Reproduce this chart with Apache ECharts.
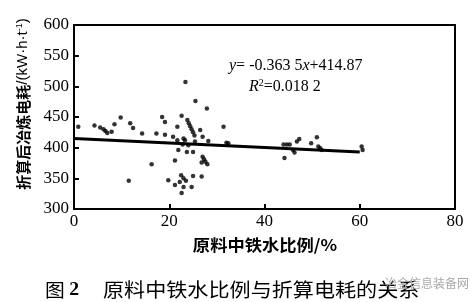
<!DOCTYPE html>
<html><head><meta charset="utf-8">
<script src="https://cdn.jsdelivr.net/npm/echarts@6/dist/echarts.min.js"></script>
<style>html,body{margin:0;padding:0;background:#fff}#c{width:474px;height:302px}</style>
</head><body><div id="c"></div>
<script>
// data
const ironRatio = [0.9,4.3,5.5,6.2,6.6,7.0,7.9,8.5,9.8,11.8,12.4,14.3,17.3,16.3,11.5,18.5,19.1,
  23.4,25.5,27.9,22.6,21.7,23.8,24.1,24.4,24.7,25.0,25.3,26.5,31.4,19.1,20.8,23.3,27.0,28.2,32.4,25.4,21.7,23.0,
  21.9,23.7,25.0,21.2,27.0,27.3,27.6,28.0,26.8,19.8,22.5,23.0,23.5,22.2,25.0,26.8,21.2,23.0,24.7,22.6,32.0,22.8,24.0,
  44.0,44.7,45.3,46.8,47.3,46.0,46.3,44.2,49.8,51.0,51.3,51.7,52.0,60.4,60.6];
const power = [434,436,433,430,427,424,426,438,449,440,432,423,423,373,346,450,442,
  507,476,464,452,434,445,440,435,430,425,420,429,434,421,418,412,418,411,407,410,412,415,
  396,393,393,379,385,381,377,373,376,347,355,350,346,344,354,353,339,336,336,326,408,405,404,
  405,405,405,410,414,396,392,383,407,417,402,399,396,402,396];
const fitX = [0, 60];
const fitY = [414.9, 393.1];
const xTicks = [0, 20, 40, 60, 80];
const yTicks = [300, 350, 400, 450, 500, 550, 600];

const chart = echarts.init(document.getElementById('c'));
const serif = '"Liberation Serif","Times New Roman",serif';
const cjk = '"Noto Sans CJK SC",sans-serif';
const sans = '"Liberation Sans",Arial,sans-serif';
chart.setOption({
  backgroundColor: '#fff',
  animation: false,
  grid: {left: 74, right: 19, top: 25, bottom: 93, show: true, borderColor: '#000', borderWidth: 2, backgroundColor: 'transparent'},
  xAxis: {type: 'value', min: xTicks[0], max: xTicks[xTicks.length-1], interval: 20,
    axisLine: {show: true, lineStyle: {color: '#000', width: 2}},
    axisTick: {show: true, inside: true, length: 5, lineStyle: {color: '#000', width: 2}},
    axisLabel: {color: '#000', fontFamily: serif, fontSize: 17, margin: 4},
    splitLine: {show: false}},
  yAxis: {type: 'value', min: yTicks[0], max: yTicks[yTicks.length-1], interval: 50,
    axisLine: {show: true, lineStyle: {color: '#000', width: 2}},
    axisTick: {show: true, inside: true, length: 5, lineStyle: {color: '#000', width: 2}},
    axisLabel: {color: '#000', fontFamily: serif, fontSize: 17, margin: 5},
    splitLine: {show: false}},
  series: [
    {type: 'scatter', data: ironRatio.map((x, i) => [x, power[i]]), symbol: 'circle', symbolSize: 4.5,
     itemStyle: {color: '#000'}},
    {type: 'line', data: fitX.map((x, i) => [x, fitY[i]]), symbol: 'none',
     lineStyle: {color: '#000', width: 3}}
  ],
  graphic: [
    {type: 'text', x: 23, y: 104, rotation: Math.PI/2,
     style: {rich: {c: {fontFamily: cjk, fontWeight: 'bold', fontSize: 15, fill: '#000'},
                    l: {fontFamily: sans, fontSize: 15, fill: '#000'},
                    s: {fontFamily: sans, fontSize: 9, fill: '#000', verticalAlign: 'top', padding: [0,0,6,0]}},
       text: '{c|折算后冶炼电耗}{l|/(kW·h·t}{s|-1}{l|)}', textAlign: 'center', textVerticalAlign: 'middle'}},
    {type: 'text', x: 265, y: 245, scaleX: 1.08,
     style: {text: '原料中铁水比例/%', font: 'bold 16px ' + cjk, fill: '#000', textAlign: 'center', textVerticalAlign: 'middle'}},
    {type: 'text', x: 229, y: 66,
     style: {rich: {i: {fontFamily: serif, fontStyle: 'italic', fontSize: 16, fill: '#000'}, n: {fontFamily: serif, fontSize: 16, fill: '#000'}},
       text: '{i|y}{n|= -0.363 5}{i|x}{n|+414.87}', textVerticalAlign: 'middle'}},
    {type: 'text', x: 249, y: 87,
     style: {rich: {i: {fontFamily: serif, fontStyle: 'italic', fontSize: 16, fill: '#000'}, n: {fontFamily: serif, fontSize: 16, fill: '#000'}, s: {fontFamily: serif, fontSize: 10, fill: '#000', verticalAlign: 'top', padding: [0,0,8,0]}},
       text: '{i|R}{s|2}{n|=0.018 2}', textVerticalAlign: 'middle'}},
    {type: 'text', x: 45, y: 290, scaleX: 1.1,
     style: {rich: {a: {fontFamily: cjk, fontSize: 18, fill: '#000'}, b: {fontFamily: serif, fontWeight: 'bold', fontSize: 18, fill: '#000'}},
       text: '{a|图 }{b|2}', textVerticalAlign: 'middle'}},
    {type: 'text', x: 103, y: 290, scaleX: 1.11,
     style: {text: '原料中铁水比例与折算电耗的关系', font: '19px ' + cjk, fill: '#000', textVerticalAlign: 'middle'}},
    {type: 'text', x: 385, y: 283,
     style: {text: '冶金信息装备网', font: '12px ' + cjk, fill: '#aaa', textVerticalAlign: 'middle'}}
  ]
});
</script></body></html>
